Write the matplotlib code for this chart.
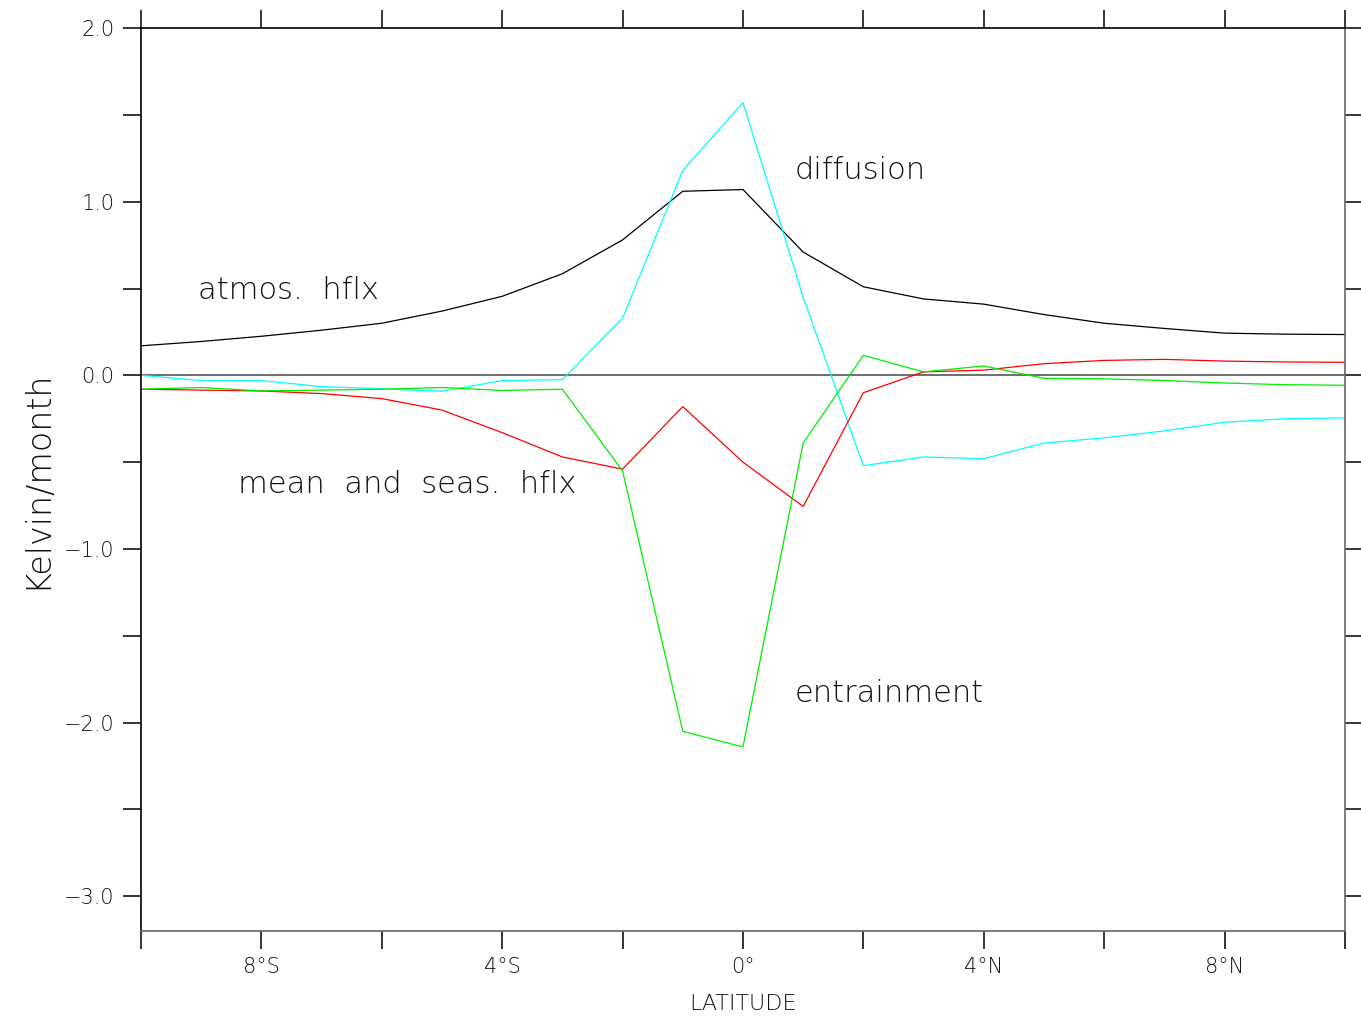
import matplotlib
matplotlib.use("Agg")
import matplotlib.pyplot as plt
from matplotlib.ticker import MultipleLocator, FixedLocator

# latitude, one point per degree
lat = list(range(-10, 11))

atmos_hflx = [0.17, 0.195, 0.225, 0.26, 0.30, 0.37, 0.455, 0.585, 0.78, 1.06, 1.07,
              0.71, 0.51, 0.44, 0.41, 0.35, 0.30, 0.27, 0.243, 0.237, 0.235]
diffusion = [0.0, -0.03, -0.03, -0.065, -0.077, -0.092, -0.03, -0.025, 0.33, 1.18, 1.57,
             0.45, -0.52, -0.47, -0.48, -0.39, -0.36, -0.32, -0.27, -0.25, -0.245]
mean_seas = [-0.08, -0.085, -0.09, -0.105, -0.134, -0.20, -0.33, -0.47, -0.54, -0.18, -0.50,
             -0.755, -0.10, 0.02, 0.03, 0.067, 0.086, 0.092, 0.082, 0.077, 0.075]
entrainment = [-0.08, -0.07, -0.09, -0.085, -0.08, -0.07, -0.087, -0.08, -0.55, -2.05, -2.14,
               -0.39, 0.115, 0.02, 0.054, -0.017, -0.02, -0.03, -0.044, -0.054, -0.057]

xtick_pos = [-8, -4, 0, 4, 8]
xtick_lab = ["8°S", "4°S", "0°", "4°N", "8°N"]
ytick_pos = [2.0, 1.0, 0.0, -1.0, -2.0, -3.0]
ytick_lab = ["2.0", "1.0", "0.0", "\u22121.0", "\u22122.0", "\u22123.0"]

plt.rcParams["font.family"] = ["DejaVu Sans"]
plt.rcParams["font.weight"] = "light"
plt.rcParams["axes.labelweight"] = "light"

fig = plt.figure(figsize=(13.61, 10.23), dpi=100)
ax = fig.add_axes([0.1036, 0.0899, 0.8846, 0.8827])

ax.axhline(0, color="#555555", lw=1.2, zorder=1)
ax.plot(lat, atmos_hflx, color="black", lw=0.9)
ax.plot(lat, diffusion, color="#00ffff", lw=0.9)
ax.plot(lat, mean_seas, color="#ff0000", lw=0.9)
ax.plot(lat, entrainment, color="#00ee00", lw=0.9)

ax.set_xlim(-10, 10)
ax.set_ylim(-3.2, 2.0)

# ticks outside on every side, labels only bottom / left
ax.xaxis.set_major_locator(FixedLocator(xtick_pos))
ax.set_xticklabels(xtick_lab)
ax.xaxis.set_minor_locator(MultipleLocator(2))
ax.yaxis.set_major_locator(FixedLocator(ytick_pos))
ax.set_yticklabels(ytick_lab)
ax.yaxis.set_minor_locator(MultipleLocator(0.5))
ax.tick_params(which="both", direction="out", length=13, width=1.1,
               top=True, right=True, labelsize=15, pad=6, colors="black")
ax.tick_params(axis="both", labelcolor="#111111")

for s in ["bottom", "right"]:
    ax.spines[s].set_color("#666666")
for s in ax.spines.values():
    s.set_linewidth(1.2)

ax.set_xlabel("LATITUDE", fontsize=16, color="#111111", labelpad=12, fontweight="light")
ax.set_ylabel("Kelvin/month", fontsize=24, color="#111111", labelpad=8, fontweight="light")

txt = dict(fontsize=22, color="#111111", va="center", ha="left")
ax.text(0.86, 1.18, "diffusion", **txt)
ax.text(-9.05, 0.49, "atmos.  hflx", **txt)
ax.text(-8.39, -0.63, "mean  and  seas.  hflx", **txt)
ax.text(0.86, -1.83, "entrainment", **txt)

plt.savefig("out.png")
